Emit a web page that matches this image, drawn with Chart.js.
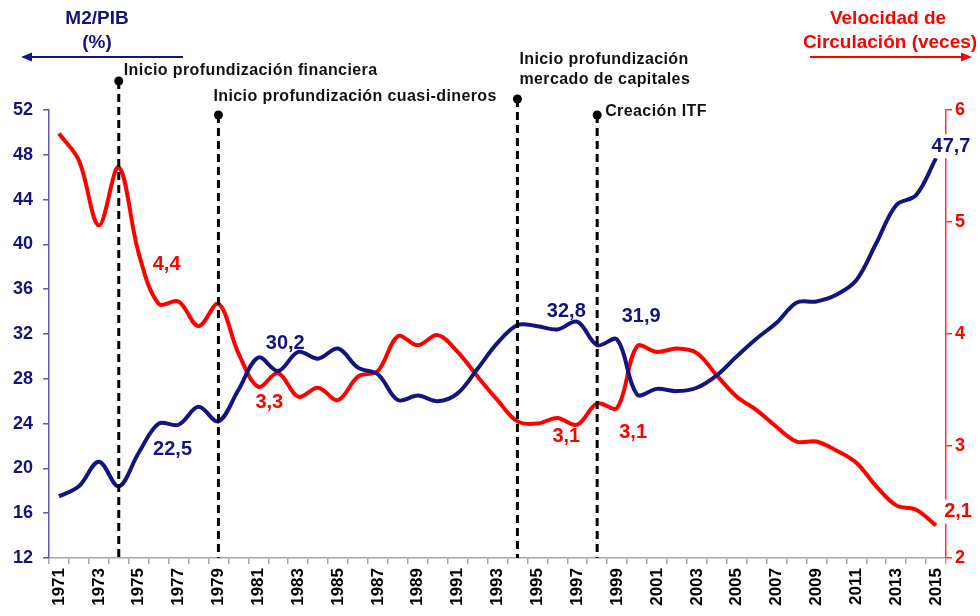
<!DOCTYPE html>
<html>
<head>
<meta charset="utf-8">
<script src="https://cdn.jsdelivr.net/npm/chart.js@4.4.1/dist/chart.umd.min.js"></script>
<style>
  html, body { margin: 0; padding: 0; background: #fff; }
  canvas { display: block; }
</style>
</head>
<body>
<canvas id="chart" width="980" height="616"></canvas>
<script>
// --- data ---
const years = [1971, 1972, 1973, 1974, 1975, 1976, 1977, 1978, 1979, 1980,
               1981, 1982, 1983, 1984, 1985, 1986, 1987, 1988, 1989, 1990,
               1991, 1992, 1993, 1994, 1995, 1996, 1997, 1998, 1999, 2000,
               2001, 2002, 2003, 2004, 2005, 2006, 2007, 2008, 2009, 2010,
               2011, 2012, 2013, 2014, 2015];

// M2/PIB (%), left axis
const m2Pib = [17.5, 18.4, 20.6, 18.4, 21.4, 24.0, 23.9, 25.5, 24.2, 27.0,
               29.9, 28.7, 30.4, 29.8, 30.7, 29.0, 28.4, 26.1, 26.5, 26.0,
               26.7, 28.9, 31.2, 32.8, 32.7, 32.4, 33.1, 31.0, 31.5, 26.6,
               27.1, 26.9, 27.2, 28.3, 30.0, 31.6, 33.0, 34.8, 34.9, 35.5,
               36.8, 40.1, 43.5, 44.4, 47.7];

// Velocidad de circulación (veces), right axis
const velocidad = [5.79, 5.55, 4.97, 5.49, 4.72, 4.27, 4.29, 4.07, 4.27, 3.83,
                   3.53, 3.65, 3.44, 3.52, 3.41, 3.62, 3.67, 3.98, 3.90, 3.99,
                   3.84, 3.62, 3.41, 3.22, 3.20, 3.25, 3.19, 3.38, 3.34, 3.89,
                   3.84, 3.87, 3.83, 3.63, 3.44, 3.32, 3.17, 3.04, 3.04, 2.96,
                   2.85, 2.64, 2.47, 2.43, 2.29];

const leftTicks = { min: 12, max: 52, step: 4 };
const rightTicks = { min: 2, max: 6, step: 1 };

// event markers (vertical dashed lines)
const eventYears = [1974, 1979, 1994, 1998];
const eventTexts = [
  ['Inicio profundización financiera'],
  ['Inicio profundización cuasi-dineros'],
  ['Inicio profundización', 'mercado de capitales'],
  ['Creación ITF']
];

// value callouts: which series / year they sit next to
const calloutYears  = [2015, 2015, 1976, 1981, 1982, 1977, 1996, 1999, 1996, 1999];
const calloutSeries = ['m2', 'vel', 'vel', 'vel', 'm2', 'm2', 'm2', 'm2', 'vel', 'vel'];
const calloutTexts  = ['47,7', '2,1', '4,4', '3,3', '30,2', '22,5', '32,8', '31,9', '3,1', '3,1'];

// --- styling ---
const NAVY = '#14147d';
const RED = '#ff0000';
const FONT = '"Liberation Sans", Arial, sans-serif';
Chart.defaults.font.family = FONT;

// layout of annotations (pixel offsets from anchors)
const eventLayout = [
  { top: 81,  tx: 5, ty: -10 },
  { top: 115, tx: -5, ty: -18 },
  { top: 99,  tx: 2, ty: -39 },
  { top: 115, tx: 8, ty: -3 }
];
const calloutLayout = [
  { dx: 15, dy: -12, box: true },
  { dx: 22, dy: -14, box: true },
  { dx: 8,  dy: -39 },
  { dx: 11, dy: 16 },
  { dx: 7,  dy: -27 },
  { dx: -6, dy: 25 },
  { dx: 9,  dy: -18 },
  { dx: 24, dy: -23 },
  { dx: 9,  dy: 18 },
  { dx: 16, dy: 25 }
];

function arrow(ctx, x1, x2, y, color) {
  const dir = Math.sign(x2 - x1);
  ctx.save();
  ctx.strokeStyle = color;
  ctx.fillStyle = color;
  ctx.lineWidth = 2;
  ctx.beginPath();
  ctx.moveTo(x1, y);
  ctx.lineTo(x2 - dir * 8, y);
  ctx.stroke();
  ctx.beginPath();
  ctx.moveTo(x2, y);
  ctx.lineTo(x2 - dir * 11, y - 4.5);
  ctx.lineTo(x2 - dir * 11, y + 4.5);
  ctx.closePath();
  ctx.fill();
  ctx.restore();
}

const annotations = {
  id: 'annotations',
  afterDatasetsDraw(chart) {
    const { ctx, scales } = chart;
    const x = scales.x, yL = scales.y, yR = scales.y1;
    const bottom = chart.chartArea.bottom;

    // event lines
    ctx.save();
    eventYears.forEach((yr, i) => {
      const px = x.getPixelForValue(years.indexOf(yr));
      const lay = eventLayout[i];
      ctx.strokeStyle = '#000';
      ctx.lineWidth = 3;
      ctx.setLineDash([8, 5]);
      ctx.beginPath();
      ctx.moveTo(px, lay.top);
      ctx.lineTo(px, bottom);
      ctx.stroke();
      ctx.setLineDash([]);
      ctx.fillStyle = '#000';
      ctx.beginPath();
      ctx.arc(px, lay.top, 4.5, 0, Math.PI * 2);
      ctx.fill();

      ctx.font = 'bold 16px ' + FONT;
      ctx.letterSpacing = '0.4px';
      ctx.fillStyle = '#111';
      ctx.textAlign = 'left';
      ctx.textBaseline = 'middle';
      eventTexts[i].forEach((line, j) => {
        ctx.fillText(line, px + lay.tx, lay.top + lay.ty + j * 20);
      });
      ctx.letterSpacing = '0px';
    });
    ctx.restore();

    // value callouts
    ctx.save();
    ctx.font = 'bold 20px ' + FONT;
    ctx.textAlign = 'center';
    ctx.textBaseline = 'middle';
    calloutTexts.forEach((t, i) => {
      const idx = years.indexOf(calloutYears[i]);
      const isM2 = calloutSeries[i] === 'm2';
      const px = x.getPixelForValue(idx);
      const py = isM2 ? yL.getPixelForValue(m2Pib[idx]) : yR.getPixelForValue(velocidad[idx]);
      const lay = calloutLayout[i];
      const cx = px + lay.dx, cy = py + lay.dy;
      if (lay.box) {
        const w = ctx.measureText(t).width + 6;
        ctx.fillStyle = '#fff';
        ctx.fillRect(cx - w / 2, cy - 12, w, 24);
      }
      ctx.fillStyle = isM2 ? NAVY : RED;
      ctx.fillText(t, cx, cy);
    });
    ctx.restore();
  },
  afterDraw(chart) {
    const { ctx } = chart;
    ctx.save();
    ctx.font = 'bold 19px ' + FONT;
    ctx.textAlign = 'center';
    ctx.textBaseline = 'middle';
    ctx.fillStyle = NAVY;
    ctx.fillText('M2/PIB', 97, 19);
    ctx.fillText('(%)', 97, 43);
    ctx.fillStyle = RED;
    ctx.fillText('Velocidad de', 888, 19);
    ctx.fillText('Circulación (veces)', 890, 43);
    ctx.restore();
    arrow(ctx, 183, 21, 57, NAVY);
    arrow(ctx, 810, 972, 57, RED);
  }
};

new Chart(document.getElementById('chart'), {
  type: 'line',
  data: {
    labels: years,
    datasets: [
      {
        label: 'M2/PIB',
        data: m2Pib,
        yAxisID: 'y',
        borderColor: NAVY,
        borderWidth: 4,
        pointRadius: 0,
        tension: 0.35,
        fill: false
      },
      {
        label: 'Velocidad de Circulación',
        data: velocidad,
        yAxisID: 'y1',
        borderColor: RED,
        borderWidth: 4,
        pointRadius: 0,
        tension: 0.35,
        fill: false
      }
    ]
  },
  options: {
    responsive: false,
    animation: false,
    devicePixelRatio: 1,
    layout: { padding: { top: 110, left: 0, right: 0, bottom: 0 } },
    plugins: { legend: { display: false }, tooltip: { enabled: false } },
    scales: {
      x: {
        offset: true,
        grid: { offset: true, drawOnChartArea: false, tickLength: 6, color: '#a6a6a6', lineWidth: 1.5 },
        border: { color: '#a6a6a6', width: 1.5 },
        ticks: {
          autoSkip: false, minRotation: 90, maxRotation: 90, padding: 4,
          color: '#000', font: { size: 17, weight: 'bold' },
          callback: (v, i) => (i % 2 === 0 ? years[i] : '')
        },
        afterFit: s => { s.height = 58; }
      },
      y: {
        position: 'left',
        min: leftTicks.min, max: leftTicks.max,
        ticks: { stepSize: leftTicks.step, color: NAVY, padding: 10, font: { size: 18, weight: 'bold' } },
        grid: { drawOnChartArea: false, tickLength: 6, color: '#5a5ab0', lineWidth: 1.5 },
        border: { color: '#5a5ab0', width: 1.5 },
        afterFit: s => { s.width = 49; }
      },
      y1: {
        position: 'right',
        min: rightTicks.min, max: rightTicks.max,
        ticks: { stepSize: rightTicks.step, color: RED, padding: 3, font: { size: 18, weight: 'bold' } },
        grid: { drawOnChartArea: false, tickLength: 6, color: '#ff3030', lineWidth: 1.5 },
        border: { color: '#ff3030', width: 1.5 },
        afterFit: s => { s.width = 34; }
      }
    }
  },
  plugins: [annotations]
});
</script>
</body>
</html>
